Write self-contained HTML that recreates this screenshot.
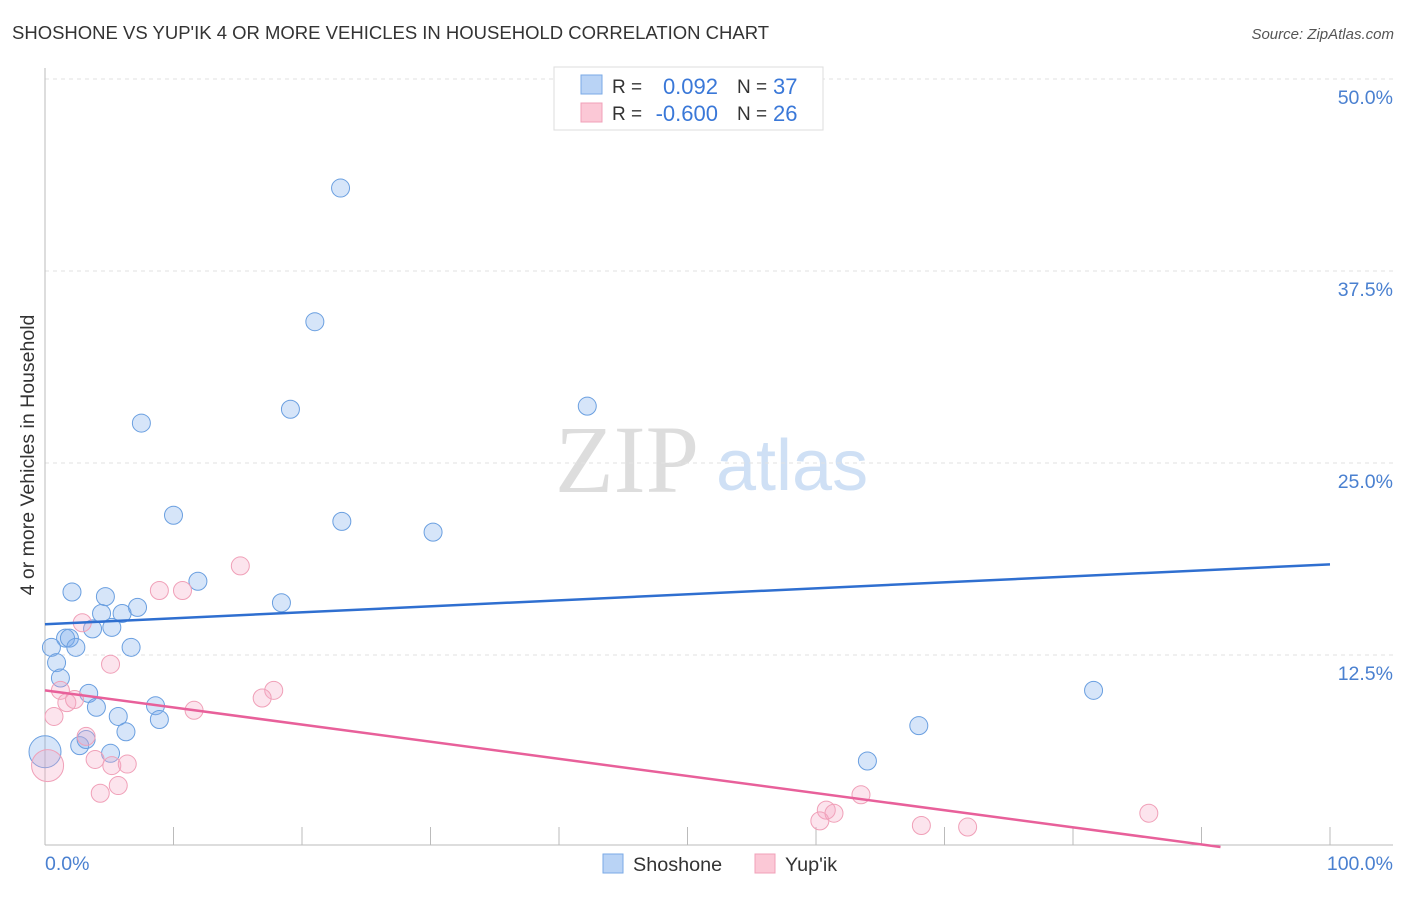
<!DOCTYPE html>
<html><head><meta charset="utf-8"><style>
body{margin:0;background:#fff;font-family:"Liberation Sans",sans-serif;}
</style></head><body>
<svg id="chart" width="1406" height="892" viewBox="0 0 1406 892" xmlns="http://www.w3.org/2000/svg" style="font-family:'Liberation Sans',sans-serif">
<text x="12" y="39" font-size="18.5" fill="#333">SHOSHONE VS YUP'IK 4 OR MORE VEHICLES IN HOUSEHOLD CORRELATION CHART</text>
<text x="1394" y="39" font-size="15" fill="#555" font-style="italic" text-anchor="end">Source: ZipAtlas.com</text>
<g>
<text x="555" y="492" font-size="96" font-family="'Liberation Serif',serif" fill="#ddd">ZIP</text>
<text x="716" y="490" font-size="72" fill="#cfe0f5">atlas</text>
</g>
<g id="grid"></g>
<g id="axes"></g>
<g id="marks"></g>
<text transform="translate(34,455) rotate(-90)" font-size="19.5" fill="#333" text-anchor="middle">4 or more Vehicles in Household</text>
<g>
<rect x="554" y="67" width="269" height="63" fill="#fff" stroke="#ddd"/>
<rect x="581" y="75" width="21" height="19" fill="#b9d3f5" stroke="#7aaae6"/>
<rect x="581" y="103" width="21" height="19" fill="#fbc8d6" stroke="#f0a0b8"/>
<text x="612" y="93" font-size="19" fill="#333">R =</text>
<text x="718" y="94" font-size="22" fill="#3a78d8" text-anchor="end">0.092</text>
<text x="737" y="93" font-size="19" fill="#333">N =</text>
<text x="773" y="94" font-size="22" fill="#3a78d8">37</text>
<text x="612" y="120" font-size="19" fill="#333">R =</text>
<text x="718" y="121" font-size="22" fill="#3a78d8" text-anchor="end">-0.600</text>
<text x="737" y="120" font-size="19" fill="#333">N =</text>
<text x="773" y="121" font-size="22" fill="#3a78d8">26</text>
</g>
<g>
<rect x="603" y="854" width="20" height="19" fill="#b9d3f5" stroke="#7aaae6"/>
<text x="633" y="871" font-size="19.8" fill="#333">Shoshone</text>
<rect x="755" y="854" width="20" height="19" fill="#fbc8d6" stroke="#f0a0b8"/>
<text x="785" y="871" font-size="19.8" fill="#333">Yup'ik</text>
</g>
</svg>
<script>
const yTicks=[12.5,25,37.5,50];
const yTickLabels=["12.5%","25.0%","37.5%","50.0%"];
const shoshoneX=[23.0,21.0,19.1,42.2,7.5,10.0,23.1,30.2,11.9,2.1,4.7,18.4,4.4,6.0,7.2,3.7,5.2,1.6,1.9,0.5,2.4,6.7,0.9,1.2,3.4,4.0,8.6,8.9,5.7,6.3,2.7,3.2,5.1,0,81.6,68.0,64.0];
const shoshoneY=[42.9,34.2,28.5,28.7,27.6,21.6,21.2,20.5,17.3,16.6,16.3,15.9,15.2,15.2,15.6,14.2,14.3,13.6,13.6,13.0,13.0,13.0,12.0,11.0,10.0,9.1,9.2,8.3,8.5,7.5,6.6,7.0,6.1,6.2,10.2,7.9,5.6];
const yupikX=[15.2,8.9,10.7,2.9,5.1,1.2,17.8,16.9,1.7,2.3,11.6,0.7,3.2,3.9,5.2,6.4,5.7,4.3,0.2,60.8,60.3,61.4,63.5,68.2,71.8,85.9];
const yupikY=[18.3,16.7,16.7,14.6,11.9,10.2,10.2,9.7,9.4,9.6,8.9,8.5,7.2,5.7,5.3,5.4,4.0,3.5,5.3,2.4,1.7,2.2,3.4,1.4,1.3,2.2];
const shoshoneTrend=[14.5,18.4];
const yupikTrend=[10.2,-0.95];
const NS="http://www.w3.org/2000/svg";
const X=v=>45+v*12.85, Y=v=>847-v*15.36;
function mk(t,a,p){const e=document.createElementNS(NS,t);for(const k in a)e.setAttribute(k,a[k]);p.appendChild(e);return e;}
const grid=document.getElementById('grid'),axes=document.getElementById('axes'),marks=document.getElementById('marks');
yTicks.forEach((t,i)=>{
 const l=mk('line',{x1:45,x2:1393,y1:Y(t),y2:Y(t),stroke:'#e2e2e2','stroke-dasharray':'4,4'},grid);
 
 
 const tx=mk('text',{x:1393,y:Y(t)+25,'font-size':19.5,fill:'#4a80d0','text-anchor':'end'},axes);
 tx.textContent=yTickLabels[i];
 
 
});
mk('line',{x1:45,x2:45,y1:68,y2:845,stroke:'#bbb'},axes);
mk('line',{x1:45,x2:1393,y1:845,y2:845,stroke:'#bbb'},axes);
for(let i=1;i<=10;i++){const t=mk('line',{x1:X(i*10),x2:X(i*10),y1:827,y2:845,stroke:'#bbb'},axes);
 
 }
const x0=mk('text',{x:45,y:870,'font-size':19.5,fill:'#4a80d0'},axes);x0.textContent='0.0%';
const x1=mk('text',{x:1393,y:870,'font-size':19.5,fill:'#4a80d0','text-anchor':'end'},axes);x1.textContent='100.0%';
function pts(xs,ys,fill,stroke,name){xs.forEach((x,i)=>{const r=(x===0||x===0.2)&&ys[i]>5&&ys[i]<6.5?16:9;
 const c=mk('circle',{cx:X(x),cy:Y(ys[i]),r:r,fill:fill,stroke:stroke,'stroke-width':1},marks);
 
 });}
pts(shoshoneX,shoshoneY,'rgba(120,170,235,0.3)','#6a9fe0','shoshone-point');
pts(yupikX,yupikY,'rgba(245,165,195,0.3)','#f0a0b8','yupik-point');
const bl=mk('line',{x1:X(0),y1:Y(shoshoneTrend[0]),x2:X(100),y2:Y(shoshoneTrend[1]),stroke:'#2f6fd0','stroke-width':2.5},marks);


const xz=yupikTrend[0]/(yupikTrend[0]-yupikTrend[1])*100;
const pl=mk('line',{x1:X(0),y1:Y(yupikTrend[0]),x2:X(xz),y2:Y(0),stroke:'#e8609a','stroke-width':2.5},marks);


</script>
</body></html>
